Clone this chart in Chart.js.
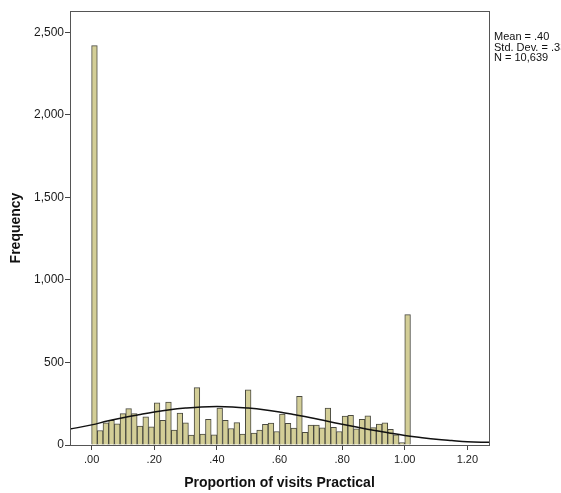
<!DOCTYPE html>
<html>
<head>
<meta charset="utf-8">
<script src="https://cdn.jsdelivr.net/npm/chart.js@4.4.1/dist/chart.umd.min.js"></script>
<style>
  html, body { margin: 0; padding: 0; background: #fff; }
  canvas { display: block; }
</style>
</head>
<body>
<canvas id="chart" width="561" height="493"></canvas>
<script>
// Histogram: 56 bins of width 1/55, first bin starts at .00, last one at 1.00
const binWidth = 1 / 55;
const frequencies = [
  2420, 88, 135, 150, 128, 190, 220, 190, 114, 170,
  110, 255, 150, 260, 90, 193, 134, 60, 348, 66,
  155, 62, 224, 150, 100, 136, 66, 335, 72, 90,
  126, 133, 82, 188, 131, 103, 295, 77, 121, 121,
  104, 224, 107, 82, 175, 180, 98, 156, 177, 105,
  127, 135, 95, 61, 15, 790
];

// Normal curve
const curveX = [-0.07, 0.00, 0.05, 0.10, 0.15, 0.20, 0.25, 0.30, 0.35, 0.40, 0.45, 0.50, 0.55,
                0.60, 0.65, 0.70, 0.75, 0.80, 0.85, 0.90, 0.95, 1.00, 1.05, 1.10, 1.15, 1.20, 1.27];
const curveY = [96, 122, 145, 165, 183, 200, 214, 224, 231, 233, 231, 224, 214,
                200, 183, 165, 145, 126, 107, 89, 73, 58, 46, 35, 27, 20, 16];

const xTicks = [0, 0.2, 0.4, 0.6, 0.8, 1.0, 1.2];
const yTicks = [0, 500, 1000, 1500, 2000, 2500];
const statLines = ['Mean = .40', 'Std. Dev. = .33', 'N = 10,639'];

const FONT = '"Liberation Sans", Arial, sans-serif';
const AXIS = '#444444';

const barData = frequencies.map((f, i) => ({ x: (i + 0.5) * binWidth, y: f }));
const lineData = curveX.map((x, i) => ({ x, y: curveY[i] }));

// frame round the plot and the stats text on the right
const extras = {
  id: 'extras',
  afterDraw(chart) {
    const { ctx, chartArea: a } = chart;
    ctx.save();
    ctx.strokeStyle = '#555';
    ctx.lineWidth = 1;
    ctx.strokeRect(Math.round(a.left) + 0.5, Math.round(a.top) + 0.5,
                   Math.round(a.right - a.left), Math.round(a.bottom - a.top));
    ctx.fillStyle = '#111';
    ctx.font = '11px ' + FONT;
    ctx.textBaseline = 'middle';
    statLines.forEach((t, i) => ctx.fillText(t, a.right + 5, 37 + i * 10.5));
    ctx.restore();
  }
};

new Chart(document.getElementById('chart'), {
  type: 'bar',
  data: {
    datasets: [
      {
        type: 'line',
        data: lineData,
        borderColor: '#111',
        borderWidth: 1.5,
        pointRadius: 0,
        tension: 0.4,
        fill: false,
        order: 0
      },
      {
        data: barData,
        backgroundColor: '#D3CE97',
        borderColor: '#4a4a40',
        borderWidth: 1,
        barPercentage: 1,
        categoryPercentage: 1,
        order: 1
      }
    ]
  },
  options: {
    responsive: false,
    animation: false,
    layout: { padding: { top: 11, right: 72, left: 0, bottom: 0 } },
    plugins: { legend: { display: false }, tooltip: { enabled: false } },
    scales: {
      x: {
        type: 'linear',
        offset: false,
        min: -0.069,
        max: 1.269,
        afterFit: s => { s.height = 48; },
        afterBuildTicks: s => { s.ticks = xTicks.map(v => ({ value: v })); },
        grid: { offset: false, drawOnChartArea: false, drawTicks: true, tickLength: 5, color: AXIS },
        border: { display: true, color: AXIS },
        ticks: {
          padding: 3,
          color: '#1a1a1a',
          font: { family: FONT, size: 11 },
          maxRotation: 0,
          callback: v => v.toFixed(2).replace(/^0/, '')
        },
        title: {
          display: true,
          text: 'Proportion of visits Practical',
          color: '#111',
          font: { family: FONT, size: 14, weight: 'bold' },
          padding: { top: 0, bottom: 1 }
        }
      },
      y: {
        min: 0,
        max: 2630,
        afterFit: s => { s.width = 70; },
        afterBuildTicks: s => { s.ticks = yTicks.map(v => ({ value: v })); },
        grid: { drawOnChartArea: false, drawTicks: true, tickLength: 5, color: AXIS },
        border: { display: true, color: AXIS },
        ticks: {
          padding: 1,
          color: '#1a1a1a',
          font: { family: FONT, size: 12 },
          callback: v => v.toLocaleString('en-US')
        },
        title: {
          display: true,
          text: 'Frequency',
          color: '#111',
          font: { family: FONT, size: 14, weight: 'bold' },
          padding: { top: 8, bottom: 0 }
        }
      }
    }
  },
  plugins: [extras]
});
</script>
</body>
</html>
